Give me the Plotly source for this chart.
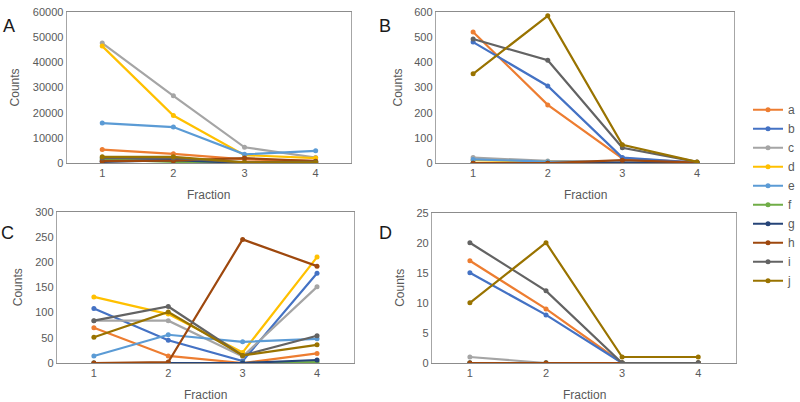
import plotly.graph_objects as go

fractions = [1, 2, 3, 4]
series_names = ["a", "b", "c", "d", "e", "f", "g", "h", "i", "j"]
colors = ["#ED7D31", "#4472C4", "#A5A5A5", "#FFC000", "#5B9BD5",
          "#70AD47", "#264478", "#9E480E", "#636363", "#997300"]

# Panel A
A_a = [5400, 3700, 1500, 900]
A_b = [1000, 1500, 200, 500]
A_c = [47600, 26700, 6300, 2200]
A_d = [46400, 18900, 3200, 2000]
A_e = [15900, 14300, 3500, 4900]
A_f = [1500, 500, 100, 100]
A_g = [500, 1200, 100, 100]
A_h = [800, 1000, 2000, 800]
A_i = [2000, 2000, 300, 500]
A_j = [2500, 2500, 300, 300]

# Panel B
B_a = [520, 231, 19, 2]
B_b = [480, 306, 22, 2]
B_c = [22, 9, 5, 2]
B_d = [12, 5, 3, 2]
B_e = [15, 6, 4, 2]
B_f = [0, 0, 0, 0]
B_g = [0, 0, 0, 0]
B_h = [0, 0, 12, 2]
B_i = [492, 408, 61, 5]
B_j = [354, 584, 73, 5]

# Panel C
C_a = [70, 14, 0, 19]
C_b = [108, 45, 4, 178]
C_c = [84, 84, 13, 151]
C_d = [131, 97, 21, 210]
C_e = [14, 56, 42, 48]
C_f = [0, 0, 0, 2]
C_g = [0, 0, 0, 6]
C_h = [0, 2, 245, 192]
C_i = [84, 112, 15, 54]
C_j = [51, 101, 15, 36]

# Panel D
D_a = [17, 9, 0, 0]
D_b = [15, 8, 0, 0]
D_c = [1, 0, 0, 0]
D_d = [0, 0, 0, 0]
D_e = [0, 0, 0, 0]
D_f = [0, 0, 0, 0]
D_g = [0, 0, 0, 0]
D_h = [0, 0, 0, 0]
D_i = [20, 12, 0, 0]
D_j = [10, 20, 1, 1]

panels = [
    ("x", "y", [A_a, A_b, A_c, A_d, A_e, A_f, A_g, A_h, A_i, A_j]),
    ("x2", "y2", [B_a, B_b, B_c, B_d, B_e, B_f, B_g, B_h, B_i, B_j]),
    ("x3", "y3", [C_a, C_b, C_c, C_d, C_e, C_f, C_g, C_h, C_i, C_j]),
    ("x4", "y4", [D_a, D_b, D_c, D_d, D_e, D_f, D_g, D_h, D_i, D_j]),
]
y_ranges = [(60000, 10000), (600, 100), (300, 50), (25, 5)]
panel_letters = ["A", "B", "C", "D"]

W, H = 800, 402
# plot area pixel boxes: left, right, top, bottom
boxes = [(67, 353, 6, 162), (438, 738, 6, 162), (57, 356, 212, 368), (434, 740, 213, 368)]
counts_x = [16, 400, 18, 402]

fig = go.Figure()
for pi, (xa, ya, data) in enumerate(panels):
    for si, vals in enumerate(data):
        fig.add_trace(go.Scatter(
            x=fractions, y=vals, mode="lines+markers", name=series_names[si],
            xaxis=xa, yaxis=ya, showlegend=(pi == 0), legendgroup=series_names[si],
            line=dict(color=colors[si], width=2.2),
            marker=dict(color=colors[si], size=5),
        ))

font = "Liberation Sans, Arial, sans-serif"
tickfont = dict(family=font, size=11, color="#595959")
layout = dict(
    width=W, height=H, margin=dict(l=0, r=0, t=0, b=0),
    paper_bgcolor="white", plot_bgcolor="white",
    font=dict(family=font, color="#595959"),
    legend=dict(x=0.94, y=1 - 92 / H, xanchor="left", yanchor="top",
                font=dict(family=font, size=12, color="#595959"),
                itemwidth=30, tracegroupgap=0, bgcolor="rgba(0,0,0,0)"),
    showlegend=True,
)
annotations = []
for i, (l, r, t, b) in enumerate(boxes):
    sfx = "" if i == 0 else str(i + 1)
    ymax, dt = y_ranges[i]
    layout["xaxis" + sfx] = dict(
        domain=[l / W, r / W], range=[0.5, 4.5], tickvals=fractions,
        ticktext=[str(f) for f in fractions], anchor="y" + sfx,
        showline=True, linecolor="#8C8C8C", linewidth=1, mirror=True,
        showgrid=False, zeroline=False, ticks="", tickfont=tickfont, fixedrange=True)
    layout["yaxis" + sfx] = dict(
        domain=[1 - b / H, 1 - t / H], range=[0, ymax], dtick=dt, anchor="x" + sfx,
        tickformat="d",
        showline=True, linecolor="#A6A6A6", linewidth=1, mirror=True,
        showgrid=False, zeroline=False, ticks="", tickfont=tickfont, fixedrange=True)
    annotations.append(dict(text="Fraction", xref="paper", yref="paper",
                            x=(l + r) / 2 / W, y=1 - (b + 24) / H,
                            showarrow=False, font=dict(family=font, size=12, color="#595959"),
                            xanchor="center", yanchor="top"))
    annotations.append(dict(text="Counts", xref="paper", yref="paper",
                            x=counts_x[i] / W, y=1 - ((t + b) / 2) / H, textangle=-90,
                            showarrow=False, font=dict(family=font, size=12, color="#595959"),
                            xanchor="center", yanchor="middle"))
letter_pos = [(9, 21), (387, 21), (8, 234), (387, 234)]
for i, (px, py) in enumerate(letter_pos):
    annotations.append(dict(text=panel_letters[i], xref="paper", yref="paper",
                            x=px / W, y=1 - py / H, showarrow=False,
                            font=dict(family=font, size=18, color="#1a1a1a"),
                            xanchor="center", yanchor="middle"))
layout["annotations"] = annotations
fig.update_layout(**layout)
fig.write_html("out.html", config={"displayModeBar": False},
               post_script="document.body.style.margin='0px';document.body.style.overflow='hidden';")
